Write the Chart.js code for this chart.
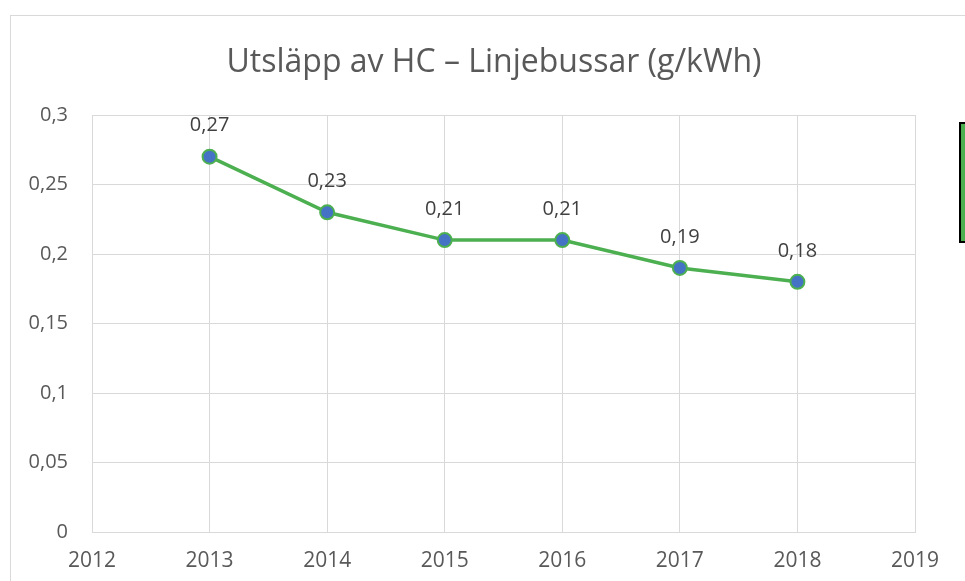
<!DOCTYPE html>
<html>
<head>
<meta charset="utf-8">
<script src="https://cdn.jsdelivr.net/npm/chart.js@4"></script>
<style>
  html, body { margin: 0; padding: 0; background: #fff; }
  #wrap { width: 965px; height: 581px; position: relative; }
</style>
</head>
<body>
<div id="wrap"><canvas id="lineChart" width="965" height="581"></canvas></div>
<script>
const years = [2013, 2014, 2015, 2016, 2017, 2018];
const hcValues = [0.27, 0.23, 0.21, 0.21, 0.19, 0.18];
const chartTitle = 'Utsläpp av HC – Linjebussar (g/kWh)';
const seriesLabel = 'Linjebussar';

const fmt = v => (Math.round(v * 100) / 100).toString().replace('.', ',');

// frame, title, cut-off legend key and point labels
const extras = {
  id: 'extras',
  beforeDraw(chart) {
    const c = chart.ctx;
    c.save();
    c.strokeStyle = '#d9d9d9';
    c.lineWidth = 1;
    c.strokeRect(10.5, 15.5, 2000, 2000);
    c.fillStyle = '#595959';
    c.font = '32px "Open Sans"';
    c.textAlign = 'center';
    c.textBaseline = 'alphabetic';
    c.fillText(chartTitle, 494, 72);
    c.fillStyle = '#4caf50';
    c.fillRect(959, 122, 20, 121);
    c.strokeStyle = '#000';
    c.lineWidth = 2;
    c.strokeRect(960, 123, 20, 119);
    c.restore();
  },
  afterDatasetsDraw(chart) {
    const c = chart.ctx;
    const meta = chart.getDatasetMeta(0);
    c.save();
    c.fillStyle = '#404040';
    c.font = '20px "Open Sans"';
    c.textAlign = 'center';
    c.textBaseline = 'middle';
    meta.data.forEach((pt, i) => {
      c.fillText(fmt(hcValues[i]), pt.x, pt.y - 31);
    });
    c.restore();
  }
};

new Chart(document.getElementById('lineChart'), {
  type: 'line',
  data: {
    datasets: [{
      label: seriesLabel,
      data: years.map((y, i) => ({ x: y, y: hcValues[i] })),
      borderColor: '#4caf50',
      borderWidth: 3.5,
      pointBackgroundColor: '#4472c4',
      pointBorderColor: '#4caf50',
      pointBorderWidth: 2,
      pointRadius: 7,
      tension: 0
    }]
  },
  options: {
    responsive: false,
    animation: false,
    layout: { padding: { top: 115, right: 50, left: 0, bottom: 0 } },
    plugins: { legend: { display: false }, title: { display: false }, tooltip: { enabled: false } },
    scales: {
      x: {
        type: 'linear',
        min: 2012,
        max: 2019,
        ticks: { stepSize: 1, color: '#595959', font: { family: 'Open Sans', size: 21 }, padding: 16, callback: v => v.toString() },
        grid: { color: '#d9d9d9', drawTicks: false },
        border: { color: '#d9d9d9' },
        afterFit: s => { s.height = 49; }
      },
      y: {
        min: 0,
        max: 0.3,
        ticks: { stepSize: 0.05, color: '#595959', font: { family: 'Open Sans', size: 20 }, padding: 24, callback: v => fmt(v) },
        grid: { color: '#d9d9d9', drawTicks: false },
        border: { color: '#d9d9d9' },
        afterFit: s => { s.width = 92; }
      }
    }
  },
  plugins: [extras]
});
</script>
</body>
</html>
